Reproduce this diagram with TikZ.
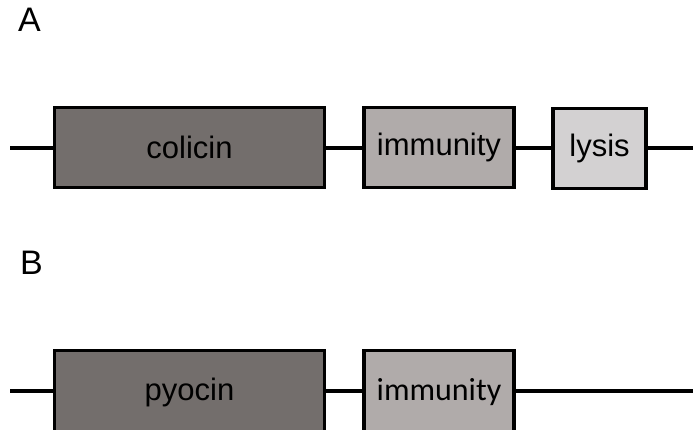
\documentclass[tikz,border=0pt]{standalone}
\usepackage{fontspec}
\setmainfont{Liberation Sans}
\newfontfamily\calfont{Carlito}
\definecolor{dark}{HTML}{736E6C}
\definecolor{mid}{HTML}{B0ABAA}
\definecolor{light}{HTML}{D3D1D2}
\begin{document}
\begin{tikzpicture}[x=1pt,y=-1pt,
  gene/.style={draw=black,line width=3.2pt,inner sep=0pt,font=\fontsize{31}{31}\selectfont},
  wire/.style={line width=3.2pt},
  lbl/.style={inner sep=0pt,font=\fontsize{34}{34}\selectfont,anchor=north west}]
\useasboundingbox (0,0) rectangle (693,430);
\clip (0,0) rectangle (693,430);
\node[lbl] (la) at (18,8) {A};
\node[lbl] (lb) at (20,251) {B};
% row A
\coordinate (a0) at (10,148);
\coordinate (a1) at (700,148);
\node[gene,fill=dark,minimum width=270pt,minimum height=80pt] (col) at (189.5,147.5) {colicin};
\node[gene,fill=mid,minimum width=150pt,minimum height=80pt] (imA) at (439,147.5) {immunity};
\node[gene,fill=light,minimum width=93pt,minimum height=80pt] (lys) at (599.5,148.5) {lysis};
\draw[wire] (a0) -- (a0 -| col.west);
\draw[wire] (a0 -| col.east) -- (a0 -| imA.west);
\draw[wire] (a0 -| imA.east) -- (a0 -| lys.west);
\draw[wire] (a0 -| lys.east) -- (a1);
% row B
\coordinate (b0) at (10,391);
\coordinate (b1) at (700,391);
\node[gene,fill=dark,minimum width=270pt,minimum height=84pt] (pyo) at (189.5,392.5) {pyocin};
\node[gene,fill=mid,minimum width=150pt,minimum height=84pt,font=\calfont\fontsize{32}{32}\selectfont] (imB) at (439,392.5) {immunity};
\draw[wire] (b0) -- (b0 -| pyo.west);
\draw[wire] (b0 -| pyo.east) -- (b0 -| imB.west);
\draw[wire] (b0 -| imB.east) -- (b1);
\end{tikzpicture}
\end{document}
